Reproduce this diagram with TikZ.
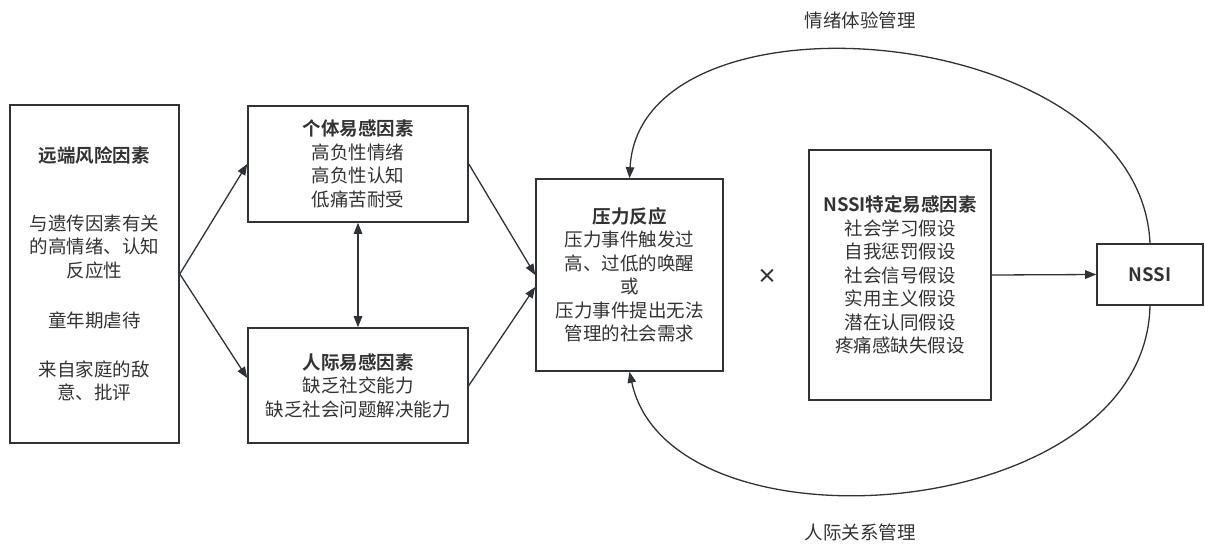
\documentclass[tikz,border=0pt]{standalone}
\usepackage{fontspec}
\setmainfont{Noto Sans CJK SC}[BoldFont={Noto Sans CJK SC Bold}]
\usetikzlibrary{arrows.meta}
\definecolor{ln}{HTML}{2F3337}
\definecolor{tx}{HTML}{333333}
\begin{document}
\begin{tikzpicture}[x=1pt,y=-1pt,
  box/.style={draw=ln,line width=1.6pt,align=center,text=tx,font=\fontsize{18.5}{23.5}\selectfont,inner sep=0pt},
  arr/.style={draw=ln,line width=1.3pt,-{Triangle[length=11pt,width=8.5pt]}},
  dbl/.style={draw=ln,line width=1.3pt,{Triangle[length=11pt,width=8.5pt]}-{Triangle[length=11pt,width=8.5pt]}},
  lab/.style={text=tx,font=\fontsize{18.5}{23.5}\selectfont}]
\useasboundingbox (0,0) rectangle (1205,544);
\fill[white] (0,0) rectangle (1205,544);

\node[box,minimum width=169pt,minimum height=338pt] (far) at (94.5,274)
  {\textbf{远端风险因素}\\[44pt]与遗传因素有关\\的高情绪、认知\\反应性\\[27pt]童年期虐待\\[25pt]来自家庭的敌\\意、批评};
\node[box,minimum width=220pt,minimum height=116pt] (ind) at (358,164)
  {\textbf{个体易感因素}\\高负性情绪\\高负性认知\\低痛苦耐受};
\node[box,minimum width=220pt,minimum height=115pt] (inter) at (358,385.5)
  {\textbf{人际易感因素}\\缺乏社交能力\\缺乏社会问题解决能力};
\node[box,minimum width=187pt,minimum height=192pt] (press) at (629.5,275)
  {\textbf{压力反应}\\压力事件触发过\\高、过低的唤醒\\或\\压力事件提出无法\\管理的社会需求};
\node[box,minimum width=182pt,minimum height=250pt] (spec) at (900,275)
  {\textbf{NSSI特定易感因素}\\社会学习假设\\自我惩罚假设\\社会信号假设\\实用主义假设\\潜在认同假设\\疼痛感缺失假设};
\node[box,minimum width=106pt,minimum height=61pt,font=\fontsize{18.5}{23.5}\selectfont\bfseries] (nssi) at (1150,274.5) {NSSI};

\node[text=tx,font=\fontsize{20}{20}\selectfont\bfseries] (times) at (767,276) {×};
\node[lab] (emo) at (860,20) {情绪体验管理};
\node[lab] (rel) at (860,532) {人际关系管理};

\draw[arr] (far.east) -- (ind.west);
\draw[arr] (far.east) -- ([yshift=7.5pt]inter.west);
\draw[dbl] (ind.south) -- (inter.north);
\draw[arr] (ind.east) -- (press.west);
\draw[arr] (inter.east) -- ([yshift=-12pt]press.west);
\draw[arr] (spec.east) -- (nssi.west);
\draw[arr] (nssi.north) .. controls (1140,20) and (640,-20) .. (press.north);
\draw[arr] (nssi.south) .. controls (1145,525) and (670,560) .. (press.south);
\end{tikzpicture}
\end{document}
